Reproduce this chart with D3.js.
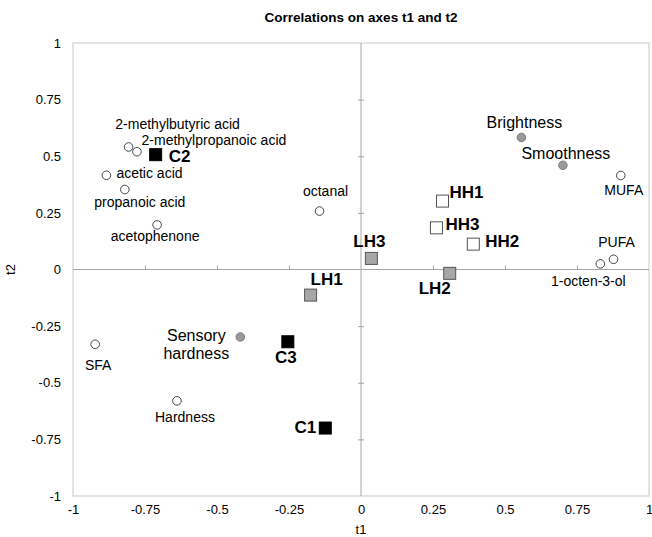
<!DOCTYPE html>
<html>
<head>
<meta charset="utf-8">
<script src="https://cdn.jsdelivr.net/npm/d3@7"></script>
<style>
  body { margin: 0; background: #fff; }
  text { font-family: "Liberation Sans", Arial, sans-serif; fill: #000; }
</style>
</head>
<body>
<div id="chart"></div>
<script>
// Variables shown as open circles
const volNames = ["2-methylbutyric acid", "2-methylpropanoic acid", "acetic acid", "propanoic acid",
  "acetophenone", "octanal", "SFA", "Hardness", "MUFA", "PUFA", "1-octen-3-ol"];
const volT1 = [-0.807, -0.778, -0.884, -0.82, -0.708, -0.144, -0.923, -0.639, 0.902, 0.877, 0.831];
const volT2 = [0.541, 0.52, 0.416, 0.353, 0.197, 0.258, -0.33, -0.58, 0.415, 0.045, 0.025];

// Sensory variables (grey circles)
const sensNames = ["Brightness", "Smoothness", "Sensory hardness"];
const sensT1 = [0.557, 0.701, -0.419];
const sensT2 = [0.583, 0.46, -0.298];

// Observations (squares)
const ctrlNames = ["C1", "C2", "C3"];
const ctrlT1 = [-0.124, -0.713, -0.254];
const ctrlT2 = [-0.70, 0.507, -0.319];

const lhNames = ["LH1", "LH2", "LH3"];
const lhT1 = [-0.175, 0.308, 0.036];
const lhT2 = [-0.113, -0.017, 0.049];

const hhNames = ["HH1", "HH2", "HH3"];
const hhT1 = [0.283, 0.39, 0.262];
const hhT2 = [0.302, 0.112, 0.184];

const tickValues = [-1, -0.75, -0.5, -0.25, 0, 0.25, 0.5, 0.75, 1];

// label placement relative to the mark: [dx, dy, anchor]
const labelPos = {
  "2-methylbutyric acid": [49, -23, "middle"],
  "2-methylpropanoic acid": [77, -12, "middle"],
  "acetic acid": [10, -2, "start"],
  "propanoic acid": [15, 12, "middle"],
  "acetophenone": [-2, 11, "middle"],
  "octanal": [6, -20, "middle"],
  "SFA": [3, 21, "middle"],
  "Hardness": [8, 16, "middle"],
  "MUFA": [3, 14, "middle"],
  "PUFA": [3, -17, "middle"],
  "1-octen-3-ol": [-12, 17, "middle"],
  "Brightness": [3, -15, "middle"],
  "Smoothness": [3, -12, "middle"],
  "Sensory hardness": [-44, -2, "middle"],
  "C1": [-9, -1, "end"],
  "C2": [13, 1, "start"],
  "C3": [-2, 15, "middle"],
  "LH1": [16, -16, "middle"],
  "LH2": [-15, 15, "middle"],
  "LH3": [-2, -17, "middle"],
  "HH1": [7, -9, "start"],
  "HH2": [12, -3, "start"],
  "HH3": [9, -4, "start"]
};

const W = 652, H = 537;
const margin = { top: 43, right: 3, bottom: 41, left: 73 };

const svg = d3.select("#chart").append("svg")
  .attr("width", W).attr("height", H);

const x = d3.scaleLinear().domain([-1, 1]).range([margin.left, W - margin.right]);
const y = d3.scaleLinear().domain([-1, 1]).range([H - margin.bottom, margin.top]);

// Title
svg.append("text")
  .attr("x", (x(-1) + x(1)) / 2).attr("y", 22)
  .attr("text-anchor", "middle")
  .style("font-size", "13.5px").style("font-weight", "bold")
  .text("Correlations on axes t1 and t2");

// Plot border
svg.append("rect")
  .attr("x", x(-1)).attr("y", y(1))
  .attr("width", x(1) - x(-1)).attr("height", y(-1) - y(1))
  .attr("fill", "none").attr("stroke", "#d4d4d4").attr("stroke-width", 1.3);

// Outer tick labels
const fmt = d => String(d);
svg.append("g")
  .attr("transform", `translate(0,${y(-1)})`)
  .call(d3.axisBottom(x).tickValues(tickValues).tickSize(0).tickPadding(9).tickFormat(fmt))
  .call(g => g.select(".domain").remove())
  .selectAll("text").style("font-size", "13px").style("font-family", "Liberation Sans, Arial, sans-serif");

svg.append("g")
  .attr("transform", `translate(${x(-1)},0)`)
  .call(d3.axisLeft(y).tickValues(tickValues).tickSize(0).tickPadding(12).tickFormat(fmt))
  .call(g => g.select(".domain").remove())
  .selectAll("text").style("font-size", "13px").style("font-family", "Liberation Sans, Arial, sans-serif");

// Central axes with small ticks
const axisColor = "#a6a6a6";
svg.append("line")
  .attr("x1", x(-1)).attr("x2", x(1)).attr("y1", y(0)).attr("y2", y(0))
  .attr("stroke", axisColor);
svg.append("line")
  .attr("x1", x(0)).attr("x2", x(0)).attr("y1", y(1)).attr("y2", y(-1))
  .attr("stroke", axisColor);

const innerTicks = tickValues.filter(v => Math.abs(v) < 1 && v !== 0);
svg.append("g")
  .attr("transform", `translate(0,${y(0)})`)
  .call(d3.axisTop(x).tickValues(innerTicks).tickSize(4).tickFormat(""))
  .call(g => g.select(".domain").remove())
  .selectAll("line").attr("stroke", axisColor);

svg.append("g")
  .attr("transform", `translate(${x(0) + 3},0)`)
  .call(d3.axisLeft(y).tickValues(innerTicks).tickSize(6).tickFormat(""))
  .call(g => g.select(".domain").remove())
  .selectAll("line").attr("stroke", axisColor);

// Axis titles
svg.append("text")
  .attr("x", x(0)).attr("y", 534)
  .attr("text-anchor", "middle")
  .style("font-size", "13px")
  .text("t1");
svg.append("text")
  .attr("transform", `translate(15,${y(0)}) rotate(-90)`)
  .attr("text-anchor", "middle")
  .style("font-size", "13px")
  .text("t2");

const zip = (names, a, b) => names.map((n, i) => ({ name: n, t1: a[i], t2: b[i] }));

function addLabels(data, size, weight) {
  svg.append("g").selectAll("text")
    .data(data)
    .join("text")
    .attr("text-anchor", d => labelPos[d.name][2])
    .attr("dominant-baseline", "central")
    .style("font-size", size).style("font-weight", weight)
    .each(function (d) {
      const [dx, dy] = labelPos[d.name];
      const t = d3.select(this);
      const lines = d.name === "Sensory hardness" ? ["Sensory", "hardness"] : [d.name];
      lines.forEach((ln, i) => {
        t.append("tspan")
          .attr("x", x(d.t1) + dx)
          .attr("y", y(d.t2) + dy + i * 18)
          .text(ln);
      });
    });
}

// Circles
const volData = zip(volNames, volT1, volT2);
const sensData = zip(sensNames, sensT1, sensT2);

svg.append("g").selectAll("circle")
  .data(volData)
  .join("circle")
  .attr("cx", d => x(d.t1)).attr("cy", d => y(d.t2)).attr("r", 4.3)
  .attr("fill", "#fff").attr("stroke", "#333").attr("stroke-width", 0.9);

svg.append("g").selectAll("circle")
  .data(sensData)
  .join("circle")
  .attr("cx", d => x(d.t1)).attr("cy", d => y(d.t2)).attr("r", 4.3)
  .attr("fill", "#999").attr("stroke", "#777").attr("stroke-width", 0.9);

// Squares
const sq = 12;
function addSquares(data, fill, stroke) {
  svg.append("g").selectAll("rect")
    .data(data)
    .join("rect")
    .attr("x", d => x(d.t1) - sq / 2).attr("y", d => y(d.t2) - sq / 2)
    .attr("width", sq).attr("height", sq)
    .attr("fill", fill).attr("stroke", stroke).attr("stroke-width", 1);
}
const ctrlData = zip(ctrlNames, ctrlT1, ctrlT2);
const lhData = zip(lhNames, lhT1, lhT2);
const hhData = zip(hhNames, hhT1, hhT2);
addSquares(ctrlData, "#000", "#000");
addSquares(lhData, "#a6a6a6", "#555");
addSquares(hhData, "#fff", "#555");

addLabels(volData, "14px", "normal");
addLabels(sensData, "16px", "normal");
addLabels(ctrlData.concat(lhData, hhData), "17px", "bold");
</script>
</body>
</html>
